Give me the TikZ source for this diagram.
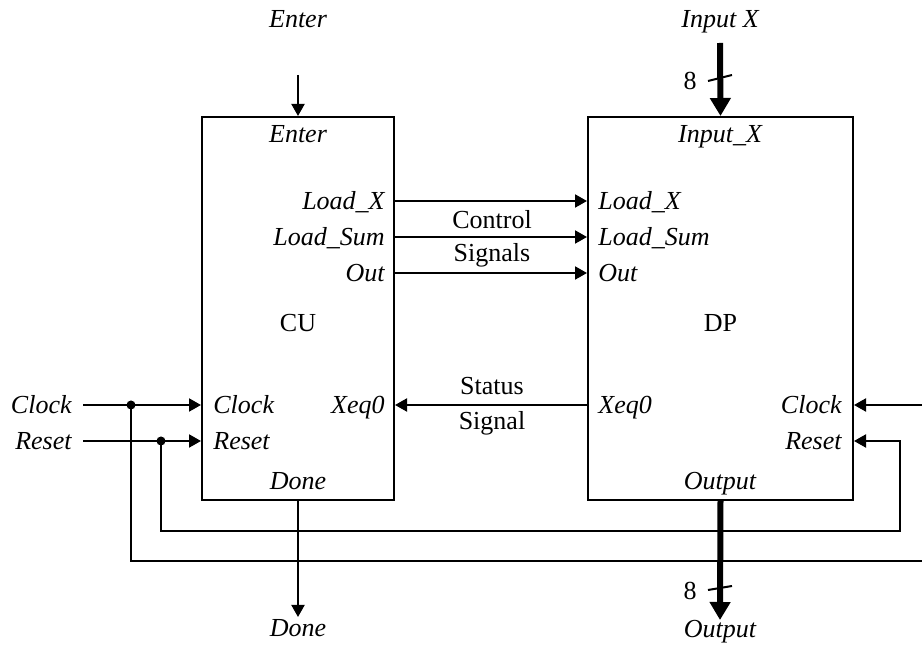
\documentclass[tikz,border=0pt]{standalone}
\usepackage{fontspec}
\setmainfont{Liberation Serif}
\usetikzlibrary{positioning, calc, arrows.meta}

\begin{document}
\begin{tikzpicture}[
  x=0.5pt, y=-0.5pt,
  every node/.style={font=\fontsize{13}{15}\selectfont, inner sep=0pt},
  lbl/.style={font=\fontsize{13}{15}\selectfont\itshape},
  block/.style={draw, line width=1pt, minimum width=96pt, minimum height=191.5pt},
  sig/.style={line width=1pt, -{Triangle[length=6pt, width=6.5pt]}},
  wire/.style={line width=1pt},
  bus/.style={line width=3pt, -{Triangle[length=9pt, width=10pt]}},
  dot/.style={circle, fill, inner sep=0pt, minimum size=4.5pt},
]
\useasboundingbox (0,0) rectangle (922,646);

% Blocks
\node[block] (cu) at (298, 308.5) {};
\node[block, minimum width=132.5pt] (dp) at (720.5, 308.5) {};
\node (cuName) at ($(cu.center)+(0,14.5)$) {CU};
\node (dpName) at ($(dp.center)+(0,14.5)$) {DP};

% Signal rows
\coordinate (rLx)  at (0, 201);
\coordinate (rLs)  at (0, 237);
\coordinate (rOut) at (0, 273);
\coordinate (rClk) at (0, 405);
\coordinate (rRst) at (0, 441);

% CU ports
\node[lbl, anchor=base]      (cuEnter) at (298, 143) {Enter};
\node[lbl, anchor=base east] (cuLx)    at (385, 210) {Load\_X};
\node[lbl, anchor=base east] (cuLs)    at (385, 246) {Load\_Sum};
\node[lbl, anchor=base east] (cuOut)   at (385, 282) {Out};
\node[lbl, anchor=base east] (cuXeq)   at (385, 414) {Xeq0};
\node[lbl, anchor=base west] (cuClk)   at (213, 414) {Clock};
\node[lbl, anchor=base west] (cuRst)   at (213, 450) {Reset};
\node[lbl, anchor=base]      (cuDone)  at (298, 490) {Done};

% DP ports
\node[lbl, anchor=base]      (dpIn)    at (720, 143) {Input\_X};
\node[lbl, anchor=base west] (dpLx)    at (598, 210) {Load\_X};
\node[lbl, anchor=base west] (dpLs)    at (598, 246) {Load\_Sum};
\node[lbl, anchor=base west] (dpOut)   at (598, 282) {Out};
\node[lbl, anchor=base west] (dpXeq)   at (598, 414) {Xeq0};
\node[lbl, anchor=base east] (dpClk)   at (842, 414) {Clock};
\node[lbl, anchor=base east] (dpRst)   at (842, 450) {Reset};
\node[lbl, anchor=base]      (dpOutp)  at (720, 490) {Output};

% External labels
\node[lbl, anchor=base]      (enterIn) at (298, 28) {Enter};
\node[lbl, anchor=base]      (inX)     at (720, 28) {Input X};
\node[lbl, anchor=base east] (clkIn)   at (72, 414) {Clock};
\node[lbl, anchor=base east] (rstIn)   at (72, 450) {Reset};
\node[lbl, anchor=base]      (doneOut) at (298, 637) {Done};
\node[lbl, anchor=base]      (outp)    at (720, 638) {Output};
\node[anchor=base] (wIn)  at (690, 90) {8};
\node[anchor=base] (wOut) at (690, 600) {8};

% Group labels
\node[anchor=base] (ctrl1) at (492, 229) {Control};
\node[anchor=base] (ctrl2) at (492, 262) {Signals};
\node[anchor=base] (stat1) at (492, 395) {Status};
\node[anchor=base] (stat2) at (492, 430) {Signal};

% Control and status signals
\draw[sig] (cu.east |- rLx)  -- (dp.west |- rLx);
\draw[sig] (cu.east |- rLs)  -- (dp.west |- rLs);
\draw[sig] (cu.east |- rOut) -- (dp.west |- rOut);
\draw[sig] (dp.west |- rClk) -- (cu.east |- rClk);

% Enter and Done
\coordinate (enterSrc) at (298, 75);
\coordinate (doneDst)  at (298, 617);
\draw[sig] (enterSrc) -- (cu.north);
\draw[sig] (cu.south) -- (doneDst);

% Clock and Reset
\coordinate (clkSrc) at (83, 405);
\coordinate (rstSrc) at (83, 441);
\node[dot] (dClk) at (131, 405) {};
\node[dot] (dRst) at (161, 441) {};
\coordinate (clkR) at (924, 561);
\coordinate (rstR) at (900, 531);
\draw[sig] (clkSrc) -- (cu.west |- rClk);
\draw[sig] (rstSrc) -- (cu.west |- rRst);
\draw[sig] (dClk.center) |- (clkR) |- (dp.east |- rClk);
\draw[sig] (dRst.center) |- (rstR) |- (dp.east |- rRst);

% Data buses
\coordinate (inSrc)  at (720, 43);
\coordinate (outDst) at (720, 620);
\draw[bus] (inSrc) -- (dp.north);
\draw[bus] (dp.south) -- (outDst);
\draw[wire] ($(inSrc)+(-12,38)$) -- ($(inSrc)+(12,32)$);
\draw[wire] ($(outDst)+(-12,-30)$) -- ($(outDst)+(12,-34)$);

\end{tikzpicture}
\end{document}
